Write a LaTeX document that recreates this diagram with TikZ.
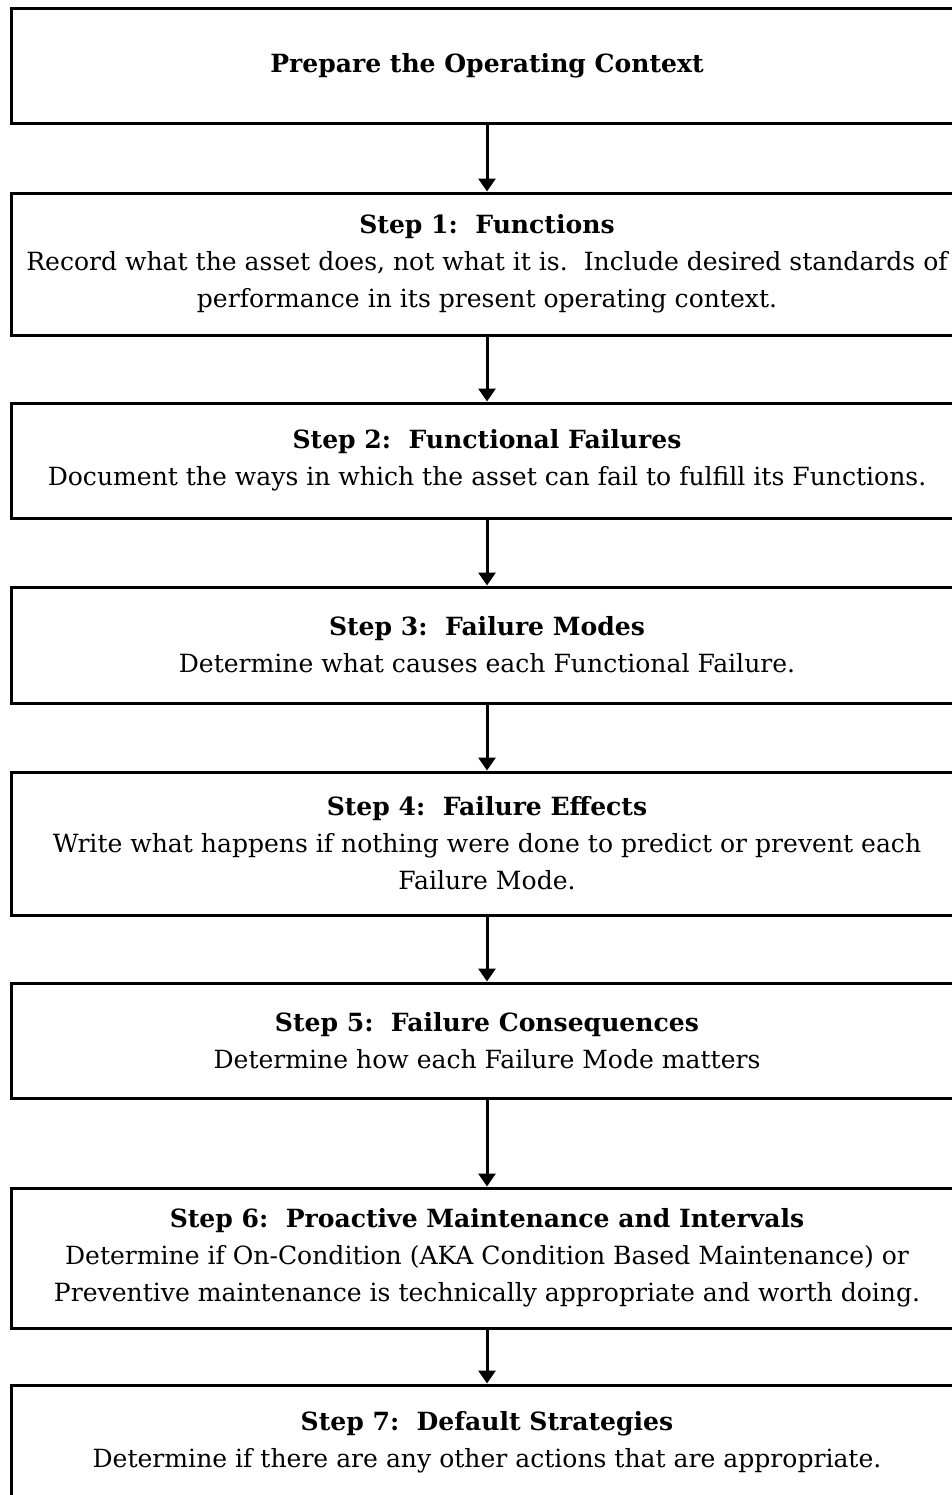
\documentclass[tikz,border=0pt]{standalone}
\usepackage{fontspec}
\setmainfont{DejaVu Serif}
\usetikzlibrary{arrows.meta}

\tikzset{
  stepbox/.style={draw, line width=2.25pt, minimum width=714pt, inner sep=0.75pt, align=center, font=\fontsize{18.8}{27.75}\selectfont},
  flowarrow/.style={line width=2.25pt, -{Triangle[width=12.75pt,length=9.75pt]}}
}

\begin{document}
\begin{tikzpicture}[x=0.75pt,y=0.75pt,yscale=-1,xscale=1]
\useasboundingbox (0,0) rectangle (951,1495);

\node (ctx) at (487,66) [stepbox, minimum height=85.5pt] {\textbf{Prepare the Operating Context}};

\node (fn) at (487,264) [stepbox, minimum height=106.5pt] {\textbf{Step 1:~~Functions}\\Record what the asset does, not what it is.~~Include desired standards of\\performance in its present operating context.};

\node (ff) at (487,460.5) [stepbox, minimum height=86.25pt] {\textbf{Step 2:~~Functional Failures}\\Document the ways in which the asset can fail to fulfill its Functions.};

\node (fm) at (487,645) [stepbox, minimum height=87pt] {\textbf{Step 3:~~Failure Modes}\\Determine what causes each Functional Failure.};

\node (fe) at (487,843.5) [stepbox, minimum height=107.25pt] {\textbf{Step 4:~~Failure Effects}\\Write what happens if nothing were done to predict or prevent each\\Failure Mode.};

\node (fc) at (487,1040.5) [stepbox, minimum height=86.25pt] {\textbf{Step 5:~~Failure Consequences}\\Determine how each Failure Mode matters};

\node (pm) at (487,1258) [stepbox, minimum height=105pt] {\textbf{Step 6:~~Proactive Maintenance and Intervals}\\Determine if On-Condition (AKA Condition Based Maintenance) or\\Preventive maintenance is technically appropriate and worth doing.};

\node (ds) at (487,1442.5) [stepbox, minimum height=86.25pt] {\textbf{Step 7:~~Default Strategies}\\Determine if there are any other actions that are appropriate.};

\draw [flowarrow] (ctx) -- (fn);
\draw [flowarrow] (fn) -- (ff);
\draw [flowarrow] (ff) -- (fm);
\draw [flowarrow] (fm) -- (fe);
\draw [flowarrow] (fe) -- (fc);
\draw [flowarrow] (fc) -- (pm);
\draw [flowarrow] (pm) -- (ds);

\end{tikzpicture}
\end{document}
